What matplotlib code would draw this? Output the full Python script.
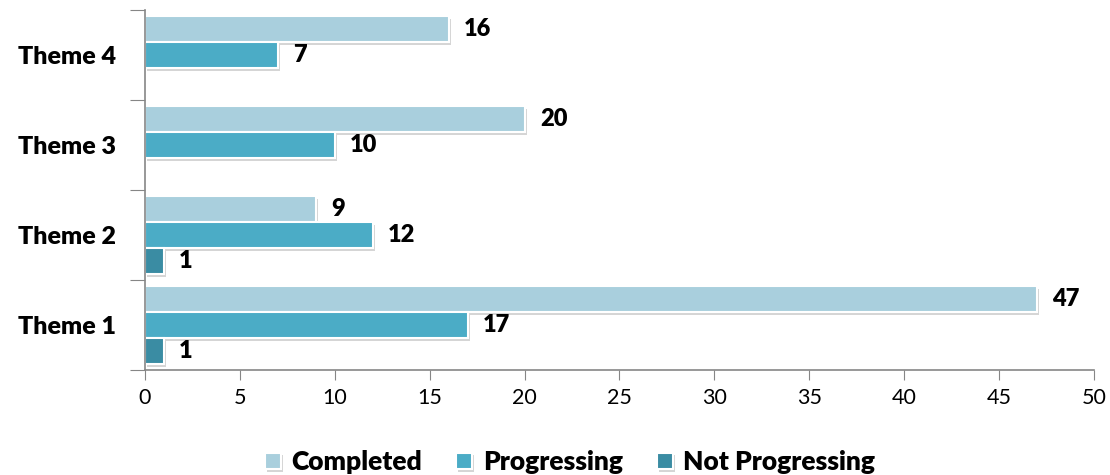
import matplotlib.pyplot as plt
import matplotlib.patheffects as pe
import numpy as np

plt.rcParams["font.family"] = ["Lato", "DejaVu Sans"]

themes = ["Theme 1", "Theme 2", "Theme 3", "Theme 4"]
completed = [47, 9, 20, 16]
progressing = [17, 12, 10, 7]
not_progressing = [1, 1, 0, 0]

series = [
    ("Completed", completed, "#a9cfdd"),
    ("Progressing", progressing, "#4bacc6"),
    ("Not Progressing", not_progressing, "#3a8ca3"),
]

fig = plt.figure(figsize=(11.1, 4.75), dpi=100)
ax = fig.add_axes([0.1306, 0.221, 0.855, 0.758])

y = np.arange(len(themes))
h = 0.29
shadow = [pe.SimplePatchShadow(offset=(1.5, -2), shadow_rgbFace="#888888", alpha=0.35), pe.Normal()]

for i, (name, vals, color) in enumerate(series):
    pos = y + h * (1 - i)
    bars = ax.barh(pos, vals, height=h, color=color, edgecolor="white",
                   linewidth=1.5, label=name)
    for b, v in zip(bars, vals):
        if v > 0:
            b.set_path_effects(shadow)
            ax.annotate(str(v), (v, b.get_y() + b.get_height() / 2),
                        xytext=(11, 0), textcoords="offset points",
                        va="center", ha="left", fontsize=17, fontweight="heavy")

ax.set_xlim(0, 50)
ax.set_ylim(-0.5, len(themes) - 0.5)
ax.set_xticks(range(0, 51, 5))
ax.tick_params(axis="x", labelsize=15.5, length=7, color="#868686", pad=6)

ax.set_yticks(np.arange(-0.5, len(themes), 1))
ax.set_yticklabels([])
ax.tick_params(axis="y", which="major", length=11, color="#868686")
ax.set_yticks(y, minor=True)
ax.set_yticklabels(themes, minor=True, fontsize=18, fontweight="heavy")
ax.tick_params(axis="y", which="minor", length=0, pad=21)

for s in ["top", "right"]:
    ax.spines[s].set_visible(False)
for s in ["left", "bottom"]:
    ax.spines[s].set_color("#868686")
    ax.spines[s].set_linewidth(1.2)

ax.legend(loc="center", bbox_to_anchor=(0.448, -0.256), ncol=3, frameon=False,
          prop={"weight": "heavy", "size": 19}, handlelength=0.6, handleheight=0.6,
          handletextpad=0.4, columnspacing=1.3)

fig.savefig("out.png", dpi=100)
